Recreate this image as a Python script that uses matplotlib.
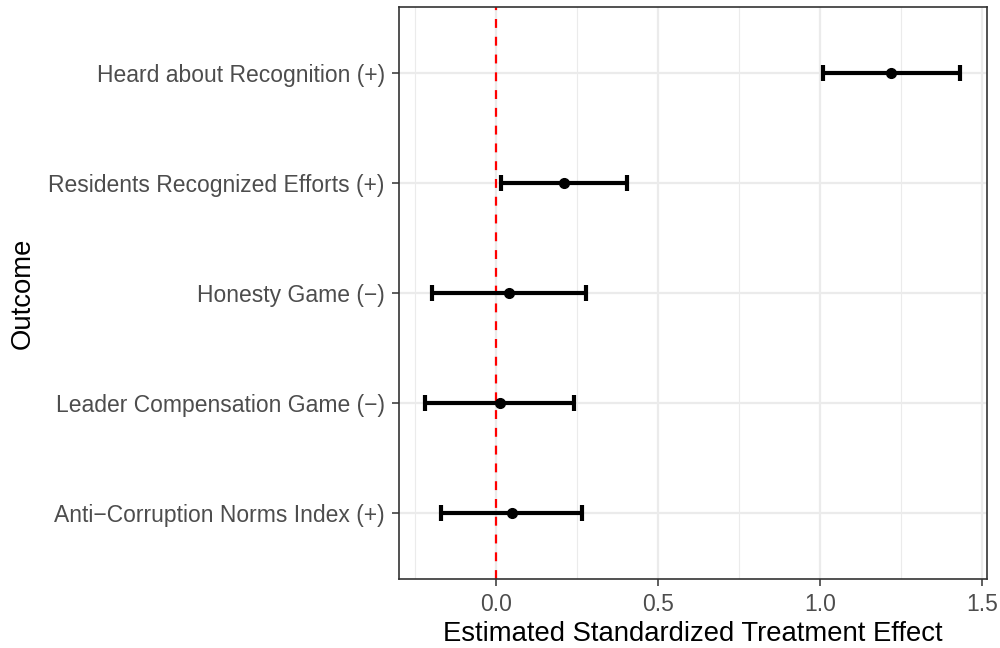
import matplotlib
matplotlib.use("Agg")
import matplotlib.pyplot as plt
import numpy as np

outcomes = ["Anti\u2212Corruption Norms Index (+)", "Leader Compensation Game (\u2212)",
            "Honesty Game (\u2212)", "Residents Recognized Efforts (+)",
            "Heard about Recognition (+)"]
estimates = [0.049, 0.011, 0.039, 0.209, 1.218]
lower = [-0.169, -0.218, -0.198, 0.015, 1.009]
upper = [0.264, 0.240, 0.276, 0.403, 1.432]
xticks = [0.0, 0.5, 1.0, 1.5]
xtick_labels = ["0.0", "0.5", "1.0", "1.5"]

plt.rcParams['font.family'] = ['Liberation Sans', 'DejaVu Sans']

fig = plt.figure(figsize=(10, 6.48), dpi=100)
ax_pos = [0.3987, 0.1065, 0.5883, 0.8825]
ax = fig.add_axes(ax_pos)

y = np.arange(len(outcomes))
est = np.array(estimates)
lo = np.array(lower)
hi = np.array(upper)

# grid
for mx in [-0.25, 0.25, 0.75, 1.25]:
    ax.axvline(mx, color='#ebebeb', lw=0.8, zorder=0)
for mx in xticks:
    ax.axvline(mx, color='#ebebeb', lw=1.6, zorder=0)
for yy in y:
    ax.axhline(yy, color='#ebebeb', lw=1.6, zorder=0)

ax.axvline(0, color='#ff0000', lw=1.6, ls=(0, (4, 4)), zorder=1)

ax.errorbar(est, y, xerr=[est - lo, hi - est], fmt='none', ecolor='black',
            elinewidth=3.0, capsize=6, capthick=3.0, zorder=3)
ax.plot(est, y, 'o', color='black', ms=7, zorder=4)

span = hi.max() - lo.min()
ax.set_xlim(lo.min() - 0.05 * span, hi.max() + 0.05 * span)
ax.set_ylim(-0.6, len(outcomes) - 1 + 0.6)

ax.set_xticks(xticks)
ax.set_xticklabels(xtick_labels)
ax.set_yticks(y)
ax.set_yticklabels(outcomes)
ax.tick_params(axis='both', colors='#333333', labelcolor='#4d4d4d',
               labelsize=16.5, length=5, width=1.1, pad=5)
for s in ax.spines.values():
    s.set_color('#333333')
    s.set_linewidth(1.2)

ax.set_xlabel("Estimated Standardized Treatment Effect", fontsize=19.8, labelpad=4)
ax.set_ylabel("Outcome", fontsize=19.8)
ax.yaxis.set_label_coords(36 / 1000, ax_pos[1] + ax_pos[3] / 2, transform=fig.transFigure)

fig.savefig("out.png", dpi=100)
